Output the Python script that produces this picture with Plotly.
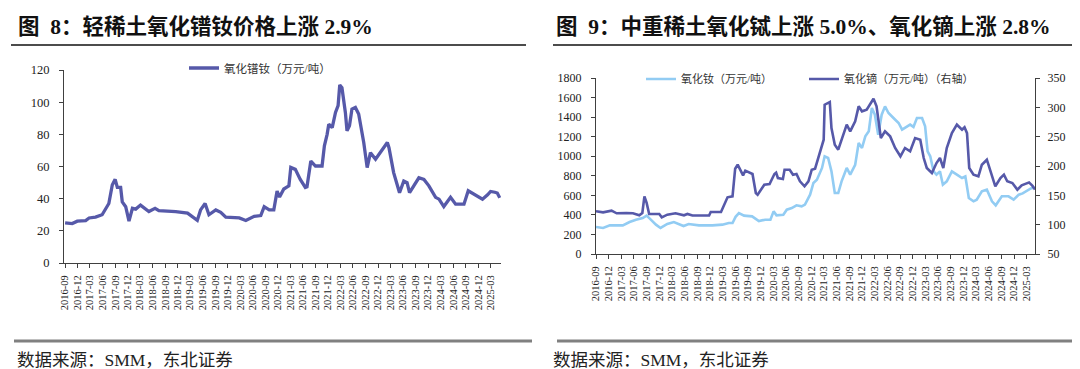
import plotly.graph_objects as go

# ---------------- data ----------------
tick_labels = ["2016-09", "2016-12", "2017-03", "2017-06", "2017-09", "2017-12",
               "2018-03", "2018-06", "2018-09", "2018-12", "2019-03", "2019-06",
               "2019-09", "2019-12", "2020-03", "2020-06", "2020-09", "2020-12",
               "2021-03", "2021-06", "2021-09", "2021-12", "2022-03", "2022-06",
               "2022-09", "2022-12", "2023-03", "2023-06", "2023-09", "2023-12",
               "2024-03", "2024-06", "2024-09", "2024-12", "2025-03"]

prnd_dates = ["2016-09-01", "2016-10-23", "2016-11-29", "2017-01-29", "2017-02-23", "2017-04-11",
              "2017-05-29", "2017-06-23", "2017-07-17", "2017-08-11", "2017-09-01", "2017-09-17",
              "2017-10-11", "2017-10-23", "2017-11-17", "2017-12-11", "2018-01-05", "2018-01-29",
              "2018-03-05", "2018-05-05", "2018-06-19", "2018-07-17", "2018-11-17", "2019-02-11",
              "2019-03-29", "2019-04-23", "2019-05-17", "2019-06-19", "2019-07-17", "2019-09-05",
              "2019-10-11", "2019-11-17", "2020-02-23", "2020-04-11", "2020-06-11", "2020-07-29",
              "2020-08-23", "2020-09-29", "2020-11-01", "2020-11-25", "2020-12-13", "2021-01-13",
              "2021-02-19", "2021-03-05", "2021-04-07", "2021-05-13", "2021-06-19", "2021-07-01",
              "2021-07-29", "2021-09-01", "2021-10-19", "2021-11-05", "2021-11-25", "2021-12-07",
              "2022-01-01", "2022-01-25", "2022-02-13", "2022-02-25", "2022-03-13", "2022-04-07",
              "2022-04-19", "2022-05-07", "2022-05-25", "2022-06-19", "2022-07-13", "2022-08-01",
              "2022-08-19", "2022-09-13", "2022-10-07", "2022-11-13", "2022-12-19", "2023-02-07",
              "2023-02-19", "2023-03-25", "2023-05-07", "2023-06-07", "2023-07-01", "2023-07-19",
              "2023-08-19", "2023-09-25", "2023-11-01", "2023-12-07", "2024-01-25", "2024-02-19",
              "2024-03-25", "2024-05-13", "2024-06-19", "2024-08-19", "2024-09-19", "2024-10-19",
              "2024-11-25", "2025-01-01", "2025-02-07", "2025-03-01", "2025-04-01", "2025-04-19",
              "2025-05-07"]
prnd_values = [25, 24.5, 26, 26.4, 28, 28.5,
               30, 34, 37, 48.5, 52, 47,
               47, 38, 35, 26, 34, 33.5,
               36, 32, 34, 32.5, 32, 31,
               28, 26.5, 33, 37, 30, 33,
               31.5, 28.5, 28, 26.4, 29, 29.5,
               35, 33, 33, 44.7, 41, 46,
               48, 59.4, 58.2, 52, 47, 47.4,
               63.4, 60.3, 60.3, 72.8, 80, 86.3,
               84.2, 93.6, 97.8, 110.7, 109, 93.6,
               82.2, 85.3, 95.7, 96.7, 92.6, 83.2,
               74.9, 59.3, 68.6, 64.5, 68.6, 74.9,
               71.7, 56.2, 43.7, 51, 50, 43.7,
               48, 53, 52, 48, 40.8, 39.7,
               35.1, 40.8, 36.6, 36.6, 44.9, 43.3,
               41.8, 39.7, 42.4, 44.5, 44, 43.5,
               40.5]

nd_dates = ["2016-09-01", "2016-10-22", "2016-12-10", "2017-03-13", "2017-05-01", "2017-06-16",
            "2017-08-04", "2017-09-01", "2017-10-01", "2017-11-07", "2017-12-10", "2018-01-28",
            "2018-03-16", "2018-05-01", "2018-05-25", "2018-07-01", "2018-09-13", "2018-12-19",
            "2019-03-01", "2019-04-16", "2019-05-13", "2019-06-04", "2019-06-28", "2019-08-04",
            "2019-10-01", "2019-11-19", "2020-01-04", "2020-02-10", "2020-03-04", "2020-03-25",
            "2020-05-13", "2020-06-07", "2020-07-13", "2020-08-16", "2020-09-22", "2020-10-16",
            "2020-11-22", "2020-12-16", "2021-01-10", "2021-02-16", "2021-03-07", "2021-04-01",
            "2021-04-25", "2021-05-19", "2021-06-13", "2021-07-07", "2021-08-13", "2021-09-07",
            "2021-10-13", "2021-11-07", "2021-12-01", "2021-12-25", "2022-01-19", "2022-02-10",
            "2022-03-04", "2022-03-28", "2022-04-22", "2022-05-16", "2022-06-10", "2022-07-16",
            "2022-08-22", "2022-09-16", "2022-10-07", "2022-11-13", "2022-12-07", "2023-01-01",
            "2023-02-07", "2023-03-01", "2023-03-19", "2023-04-07", "2023-05-01", "2023-05-22",
            "2023-06-16", "2023-07-07", "2023-08-04", "2023-09-10", "2023-10-16", "2023-11-22",
            "2023-12-16", "2024-01-10", "2024-02-13", "2024-03-07", "2024-04-13", "2024-05-19",
            "2024-06-25", "2024-07-22", "2024-09-04", "2024-10-22", "2024-11-28", "2025-01-04",
            "2025-02-01", "2025-03-01", "2025-04-01", "2025-05-01"]
nd_values = [276, 266, 293, 293, 327, 351,
             368, 392, 351, 300, 266, 307,
             327, 300, 286, 307, 293, 293,
             300, 317, 317, 380, 419, 392,
             385, 337, 351, 351, 436, 395,
             402, 453, 470, 498, 487, 505,
             607, 726, 760, 880, 999, 982,
             845, 624, 624, 743, 880, 811,
             913, 1135, 1084, 1204, 1255, 1493,
             1425, 1220, 1425, 1510, 1442, 1391,
             1340, 1272, 1289, 1323, 1300, 1391,
             1391, 1306, 1050, 999, 845, 811,
             845, 709, 743, 845, 811, 777,
             794, 573, 539, 556, 641, 658,
             539, 498, 590, 590, 556, 607,
             620, 640, 670, 680]

dy_dates = ["2016-09-01", "2016-10-22", "2016-12-22", "2017-01-28", "2017-04-07", "2017-05-25",
            "2017-07-10", "2017-08-01", "2017-08-16", "2017-09-01", "2017-09-19", "2017-12-01",
            "2017-12-19", "2018-01-28", "2018-03-28", "2018-05-28", "2018-06-22", "2018-07-28",
            "2018-11-25", "2018-12-07", "2019-02-19", "2019-03-13", "2019-04-07", "2019-05-13",
            "2019-06-01", "2019-06-19", "2019-07-13", "2019-07-28", "2019-08-13", "2019-10-04",
            "2019-10-28", "2019-11-10", "2019-12-28", "2020-02-04", "2020-03-10", "2020-03-22",
            "2020-04-04", "2020-05-10", "2020-05-22", "2020-06-28", "2020-07-22", "2020-08-16",
            "2020-09-10", "2020-10-13", "2020-11-10", "2020-12-04", "2020-12-28", "2021-02-04",
            "2021-02-28", "2021-03-07", "2021-04-01", "2021-04-13", "2021-04-25", "2021-05-19",
            "2021-06-13", "2021-07-07", "2021-08-13", "2021-09-07", "2021-10-13", "2021-11-07",
            "2021-12-01", "2022-01-04", "2022-01-28", "2022-02-22", "2022-03-16", "2022-04-16",
            "2022-05-16", "2022-06-22", "2022-07-28", "2022-09-04", "2022-10-07", "2022-11-13",
            "2022-12-19", "2023-01-25", "2023-02-19", "2023-03-13", "2023-04-19", "2023-05-22",
            "2023-06-16", "2023-07-10", "2023-08-04", "2023-09-10", "2023-10-16", "2023-11-22",
            "2023-12-10", "2023-12-28", "2024-01-13", "2024-02-13", "2024-03-19", "2024-04-13",
            "2024-05-19", "2024-06-13", "2024-07-19", "2024-08-25", "2024-09-19", "2024-10-13",
            "2024-11-19", "2024-12-25", "2025-01-25", "2025-02-25", "2025-03-19", "2025-04-13",
            "2025-05-01"]
dy_values = [122.8, 121, 123.8, 119.4, 120, 119.4,
             116, 120, 148.3, 137, 118.2, 118.2,
             112.5, 117, 119.4, 116, 118.2, 115.5,
             115.5, 121.6, 121.6, 134, 146.6, 148.3,
             195.4, 202.2, 191, 184, 192, 186.4,
             154, 151, 168, 169.3, 186.4, 188.6,
             179.5, 177.8, 193.7, 193.7, 185.2, 186.4,
             173.9, 165.4, 173.9, 193.7, 195.4, 225,
             244.8, 304.5, 307.4, 309, 264.8, 236.4,
             227.8, 244.8, 270.4, 259, 276.2, 301.7,
             293.2, 296, 304.5, 314.7, 301.7, 247.7,
             259, 250.5, 230.7, 216.5, 230.7, 225,
             247.7, 244.8, 213.6, 196.6, 188, 205,
             213.6, 196.6, 230.7, 256.2, 270.4, 261.9,
             266, 256, 196.6, 185.2, 182.4, 202.2,
             210.7, 191, 165.4, 179.5, 185.2, 174,
             171, 159.6, 167, 170, 172, 166,
             160]

# ---------------- styling ----------------
W, H = 1080, 369
DARK = "#5659A9"
LIGHT = "#92CCF3"
AXIS = "#404040"
SERIF = "Liberation Serif, Noto Sans CJK SC, serif"
CJK = "Liberation Serif, Noto Sans CJK SC, sans-serif"


def fx(p):
    return p / W


def fy(p):
    return 1 - p / H


tickvals = [t + "-01" for t in tick_labels]

fig = go.Figure()
fig.add_trace(go.Scatter(x=prnd_dates, y=prnd_values, mode="lines", name="氧化镨钕（万元/吨）",
                         line=dict(color=DARK, width=3.3), xaxis="x", yaxis="y", legend="legend"))
fig.add_trace(go.Scatter(x=nd_dates, y=nd_values, mode="lines", name="氧化钕（万元/吨）",
                         line=dict(color=LIGHT, width=2.6), xaxis="x2", yaxis="y2", legend="legend2"))
fig.add_trace(go.Scatter(x=dy_dates, y=dy_values, mode="lines", name="氧化镝（万元/吨）（右轴）",
                         line=dict(color=DARK, width=2.6), xaxis="x2", yaxis="y3", legend="legend2"))

xcommon = dict(type="date", tickmode="array", tickvals=tickvals, ticktext=tick_labels,
               tickangle=-90, showgrid=False, zeroline=False, showline=True, linecolor=AXIS,
               linewidth=1, ticks="outside", ticklen=4, tickcolor=AXIS, automargin=False,
               ticklabelstandoff=3,
               tickfont=dict(family=SERIF, size=10.5, color="#222"))
ycommon = dict(showgrid=False, zeroline=False, showline=True, linecolor=AXIS, linewidth=1,
               ticks="outside", ticklen=4, tickcolor=AXIS, automargin=False,
               ticklabelstandoff=7,
               tickfont=dict(family=SERIF, size=12.5, color="#222"))

fig.update_layout(
    width=W, height=H, margin=dict(l=0, r=0, t=0, b=0),
    paper_bgcolor="white", plot_bgcolor="white", showlegend=True,
    xaxis=dict(xcommon, domain=[fx(56), fx(493)], range=["2016-08-24", "2025-05-16"], anchor="y"),
    yaxis=dict(ycommon, domain=[fy(255), fy(62)], range=[0, 120], dtick=20, anchor="x"),
    xaxis2=dict(xcommon, domain=[fx(588), fx(1027)], range=["2016-09-01", "2025-05-01"], anchor="y2"),
    yaxis2=dict(ycommon, domain=[fy(246), fy(70)], range=[0, 1800], dtick=200, anchor="x2",
                tickfont=dict(family=SERIF, size=12, color="#222")),
    yaxis3=dict(ycommon, overlaying="y2", side="right", range=[50, 350], dtick=50, anchor="x2",
                ticklabelstandoff=5,
                tickfont=dict(family=SERIF, size=12, color="#222")),
    legend=dict(orientation="h", x=fx(252), y=fy(60), xanchor="center", yanchor="middle",
                bgcolor="rgba(0,0,0,0)", font=dict(family=CJK, size=11.5, color="#333"),
                itemwidth=30),
    legend2=dict(orientation="h", x=fx(633), y=fy(71), xanchor="left", yanchor="middle",
                 bgcolor="rgba(0,0,0,0)", font=dict(family=CJK, size=11, color="#333"),
                 itemwidth=30, entrywidth=118, entrywidthmode="pixels"),
)

# titles
fig.add_annotation(text="图  8：轻稀土氧化镨钕价格上涨 2.9%", xref="paper", yref="paper",
                   x=fx(8), y=fy(19), xanchor="left", yanchor="middle", showarrow=False,
                   font=dict(family=SERIF, size=21.5, color="#111", weight="bold"))
fig.add_annotation(text="图  9：中重稀土氧化铽上涨 5.0%、氧化镝上涨 2.8%", xref="paper", yref="paper",
                   x=fx(546), y=fy(19), xanchor="left", yanchor="middle", showarrow=False,
                   font=dict(family=SERIF, size=21.5, color="#111", weight="bold"))
# title rules
fig.add_shape(type="line", xref="paper", yref="paper", x0=fx(3), x1=fx(518), y0=fy(37), y1=fy(37),
              line=dict(color="#111", width=1.5))
fig.add_shape(type="line", xref="paper", yref="paper", x0=fx(545), x1=fx(1078), y0=fy(37), y1=fy(37),
              line=dict(color="#111", width=1.5))
# footer rules
fig.add_shape(type="line", xref="paper", yref="paper", x0=fx(6), x1=fx(524), y0=fy(333), y1=fy(333),
              line=dict(color="#808080", width=3))
fig.add_shape(type="line", xref="paper", yref="paper", x0=fx(549), x1=fx(1080), y0=fy(333), y1=fy(333),
              line=dict(color="#808080", width=3))
# footers
for x0 in (7, 543):
    fig.add_annotation(text="数据来源：SMM，东北证券", xref="paper", yref="paper",
                       x=fx(x0), y=fy(352), xanchor="left", yanchor="middle", showarrow=False,
                       font=dict(family=CJK, size=17.5, color="#222"))

fig.write_html("out.html")
